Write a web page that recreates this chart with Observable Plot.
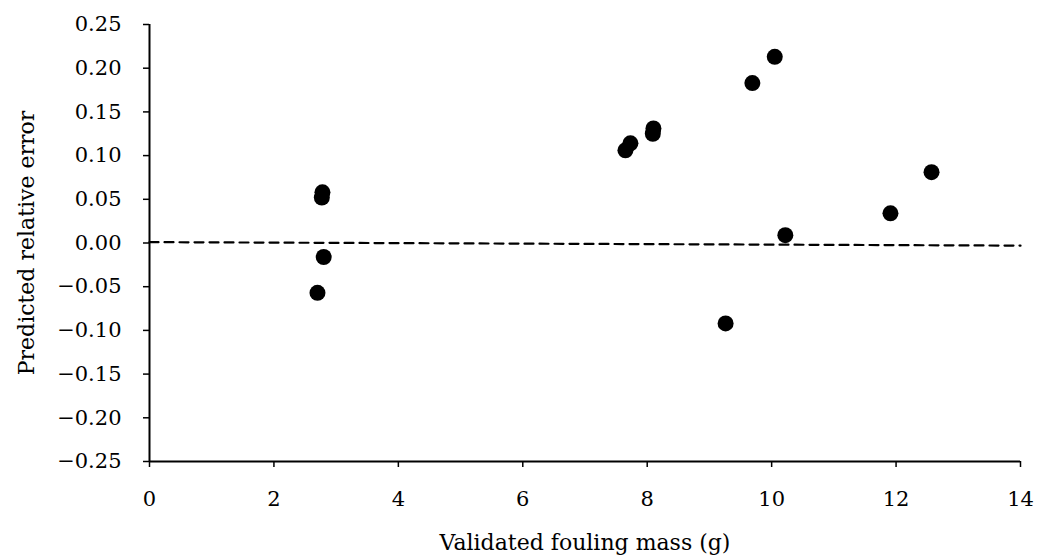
<!DOCTYPE html>
<html>
<head>
<meta charset="utf-8">
<script src="https://cdn.jsdelivr.net/npm/d3@7"></script>
<script src="https://cdn.jsdelivr.net/npm/@observablehq/plot@0.6"></script>
<style>
  html, body { margin: 0; padding: 0; background: #fff; }
  #chart svg { display: block; }
</style>
</head>
<body>
<div id="chart"></div>
<script>
// Data
const foulingMass = [2.70, 2.80, 2.77, 2.78, 7.65, 7.73, 8.09, 8.10, 9.69, 10.05, 10.22, 9.26, 11.91, 12.57];
const relativeError = [-0.057, -0.016, 0.052, 0.058, 0.106, 0.114, 0.125, 0.131, 0.183, 0.213, 0.009, -0.092, 0.034, 0.081];
const xTicks = [0, 2, 4, 6, 8, 10, 12, 14];
const yTicks = [-0.25, -0.20, -0.15, -0.10, -0.05, 0.00, 0.05, 0.10, 0.15, 0.20, 0.25];
const refX = [0, 14];
const refY = [0.001, -0.003];

const points = foulingMass.map((x, i) => ({x, y: relativeError[i]}));
const refLine = refX.map((x, i) => ({x, y: refY[i]}));

const font = "'DejaVu Serif', 'Liberation Serif', serif";

const chart = Plot.plot({
  width: 1048,
  height: 559,
  marginLeft: 149,
  marginRight: 28,
  marginTop: 24,
  marginBottom: 98,
  style: {fontFamily: font, color: "#000", background: "#fff"},
  x: {domain: [0, 14]},
  y: {domain: [-0.25, 0.25]},
  marks: [
    Plot.axisX({ticks: xTicks, tickSize: 6, tickPadding: 24, fontSize: 21, label: null,
      tickFormat: d3.format("d"), strokeWidth: 1.5}),
    Plot.axisX({ticks: [], label: "Validated fouling mass (g)", labelArrow: "none",
      labelAnchor: "center", labelOffset: 88, fontSize: 22}),
    Plot.axisY({ticks: yTicks, tickSize: 6, tickPadding: 22, fontSize: 21, label: null,
      tickFormat: d3.format(".2f"), strokeWidth: 1.5}),
    Plot.axisY({ticks: [], label: "Predicted relative error", labelArrow: "none",
      labelAnchor: "center", labelOffset: 131, fontSize: 22}),
    Plot.line(refLine, {x: "x", y: "y", stroke: "#000", strokeWidth: 2.2, strokeDasharray: "9,6"}),
    Plot.ruleX([0], {stroke: "#000", strokeWidth: 2}),
    Plot.ruleY([-0.25], {stroke: "#000", strokeWidth: 2}),
    Plot.dot(points, {x: "x", y: "y", r: 8, fill: "#000", stroke: "none"})
  ]
});
document.getElementById("chart").appendChild(chart);
</script>
</body>
</html>
